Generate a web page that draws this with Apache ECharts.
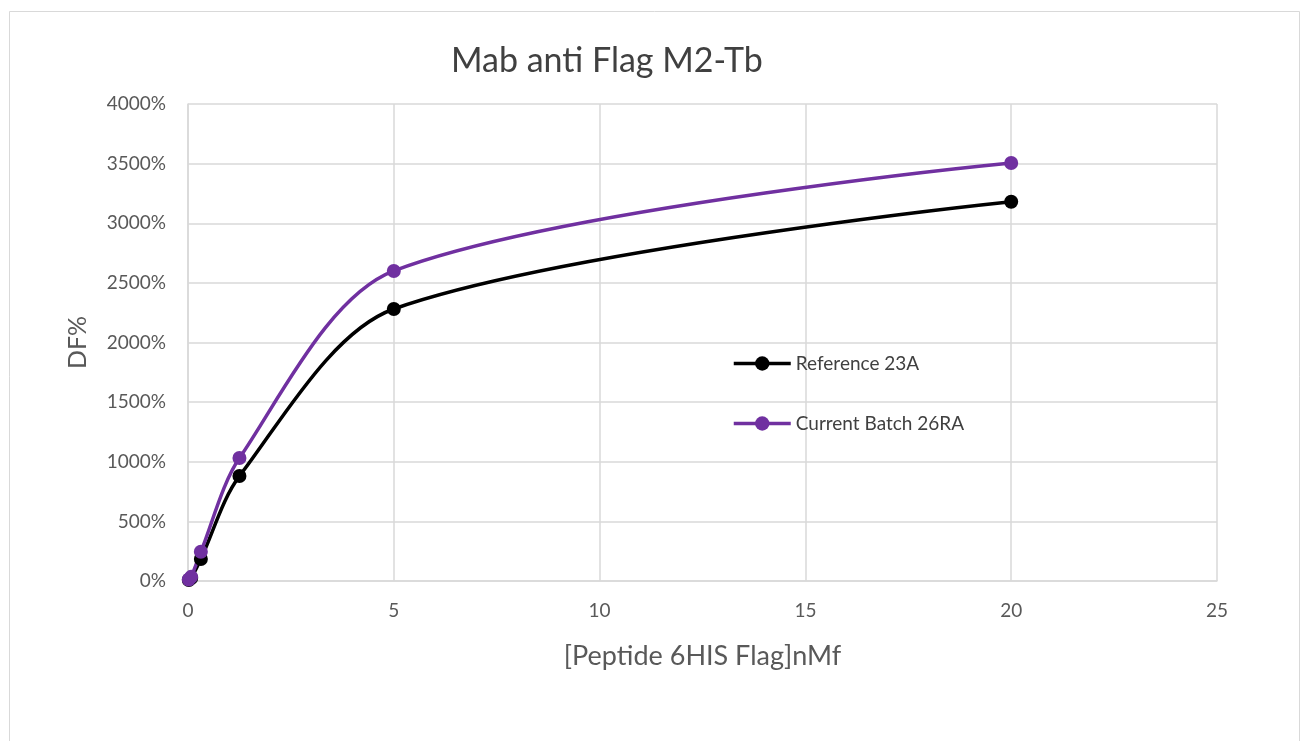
<!DOCTYPE html>
<html><head><meta charset="utf-8">
<script src="https://cdn.jsdelivr.net/npm/echarts@6/dist/echarts.min.js"></script>
<style>html,body{margin:0;padding:0;background:#fff}#c{width:1306px;height:741px}</style>
</head><body><div id="c"></div>
<script>
const concentrations = [0.0195, 0.078, 0.3125, 1.25, 5, 20];
const reference23A = [8, 25, 185, 880, 2281, 3180];
const currentBatch26RA = [12, 35, 245, 1031, 2600, 3505];
const xTicks = [0, 5, 10, 15, 20, 25];
const yTicks = [0, 500, 1000, 1500, 2000, 2500, 3000, 3500, 4000];

const chart = echarts.init(document.getElementById('c'));
const font = 'Lato, "Open Sans", sans-serif';
chart.setOption({
  animation: false,
  backgroundColor: '#fff',
  graphic: [{type:'rect', shape:{x:9.5,y:11.5,width:1290,height:740}, style:{fill:'none', stroke:'#d9d9d9', lineWidth:1}}],
  title: {text:'Mab anti Flag M2-Tb', top:39, left:446, textStyle:{fontFamily:font, fontSize:34, fontWeight:'normal', color:'#404040'}},
  grid: {left:188, top:104, right:89, bottom:160},
  legend: {
    orient:'vertical', left:727, top:349, itemGap:41, itemWidth:57, itemHeight:18,
    lineStyle:{width:3.5},
    textStyle:{fontFamily:font, fontSize:19, color:'#404040'},
    data:['Reference 23A','Current Batch 26RA']
  },
  xAxis: {
    type:'value', min:xTicks[0], max:xTicks[xTicks.length-1], interval:5,
    name:'[Peptide 6HIS Flag]nMf', nameLocation:'middle', nameGap:62,
    nameTextStyle:{fontFamily:font, fontSize:27, color:'#595959'},
    axisLine:{lineStyle:{color:'#d9d9d9', width:1.5}}, axisTick:{show:false},
    axisLabel:{fontFamily:font, fontSize:19, color:'#595959', margin:20},
    splitLine:{show:true, lineStyle:{color:'#d9d9d9', width:1.5}}
  },
  yAxis: {
    type:'value', min:yTicks[0], max:yTicks[yTicks.length-1], interval:500,
    name:'DF%', nameLocation:'middle', nameGap:98, nameRotate:90,
    nameTextStyle:{fontFamily:font, fontSize:25, color:'#595959'},
    axisLine:{show:true, lineStyle:{color:'#d9d9d9', width:1.5}}, axisTick:{show:false},
    axisLabel:{fontFamily:font, fontSize:19, color:'#595959', formatter:v=>String(v)+'%', margin:22},
    splitLine:{show:true, lineStyle:{color:'#d9d9d9', width:1.5}}
  },
  series: [
    {name:'Reference 23A', type:'line', smooth:0.3, symbol:'circle', symbolSize:14,
     data:concentrations.map((x,i)=>[x,reference23A[i]]),
     itemStyle:{color:'#000000'}, lineStyle:{color:'#000000', width:3.5}},
    {name:'Current Batch 26RA', type:'line', smooth:0.3, symbol:'circle', symbolSize:14,
     data:concentrations.map((x,i)=>[x,currentBatch26RA[i]]),
     itemStyle:{color:'#7030a0'}, lineStyle:{color:'#7030a0', width:3.5}}
  ]
});
</script></body></html>
